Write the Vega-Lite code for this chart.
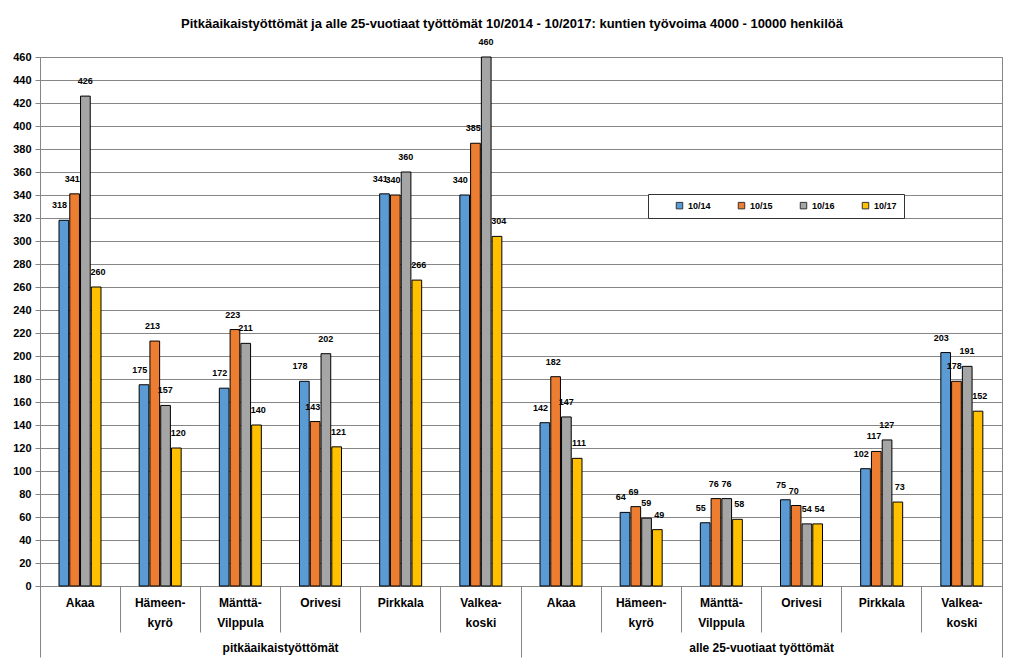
{
  "$schema": "https://vega.github.io/schema/vega-lite/v6.json",
  "width": 962,
  "height": 529,
  "autosize": {"type": "none"},
  "padding": {"left": 40, "top": 57, "right": 22, "bottom": 83},
  "background": "white",
  "title": {
    "text": "Pitkäaikaistyöttömät ja alle 25-vuotiaat työttömät 10/2014 - 10/2017: kuntien työvoima 4000 - 10000 henkilöä",
    "font": "Liberation Sans",
    "fontSize": 13,
    "fontWeight": "bold",
    "color": "black",
    "anchor": "middle",
    "offset": 7,
    "dx": -9
  },
  "config": {
    "view": {"stroke": "#868686", "strokeWidth": 1},
    "font": "Liberation Sans"
  },
  "data": {
    "values": [
      {"key": "P:Akaa", "series": "10/14", "value": 318},
      {"key": "P:Akaa", "series": "10/15", "value": 341},
      {"key": "P:Akaa", "series": "10/16", "value": 426},
      {"key": "P:Akaa", "series": "10/17", "value": 260},
      {"key": "P:Hämeen-kyrö", "series": "10/14", "value": 175},
      {"key": "P:Hämeen-kyrö", "series": "10/15", "value": 213},
      {"key": "P:Hämeen-kyrö", "series": "10/16", "value": 157},
      {"key": "P:Hämeen-kyrö", "series": "10/17", "value": 120},
      {"key": "P:Mänttä-Vilppula", "series": "10/14", "value": 172},
      {"key": "P:Mänttä-Vilppula", "series": "10/15", "value": 223},
      {"key": "P:Mänttä-Vilppula", "series": "10/16", "value": 211},
      {"key": "P:Mänttä-Vilppula", "series": "10/17", "value": 140},
      {"key": "P:Orivesi", "series": "10/14", "value": 178},
      {"key": "P:Orivesi", "series": "10/15", "value": 143},
      {"key": "P:Orivesi", "series": "10/16", "value": 202},
      {"key": "P:Orivesi", "series": "10/17", "value": 121},
      {"key": "P:Pirkkala", "series": "10/14", "value": 341},
      {"key": "P:Pirkkala", "series": "10/15", "value": 340},
      {"key": "P:Pirkkala", "series": "10/16", "value": 360},
      {"key": "P:Pirkkala", "series": "10/17", "value": 266},
      {"key": "P:Valkea-koski", "series": "10/14", "value": 340},
      {"key": "P:Valkea-koski", "series": "10/15", "value": 385},
      {"key": "P:Valkea-koski", "series": "10/16", "value": 460},
      {"key": "P:Valkea-koski", "series": "10/17", "value": 304},
      {"key": "A:Akaa", "series": "10/14", "value": 142},
      {"key": "A:Akaa", "series": "10/15", "value": 182},
      {"key": "A:Akaa", "series": "10/16", "value": 147},
      {"key": "A:Akaa", "series": "10/17", "value": 111},
      {"key": "A:Hämeen-kyrö", "series": "10/14", "value": 64},
      {"key": "A:Hämeen-kyrö", "series": "10/15", "value": 69},
      {"key": "A:Hämeen-kyrö", "series": "10/16", "value": 59},
      {"key": "A:Hämeen-kyrö", "series": "10/17", "value": 49},
      {"key": "A:Mänttä-Vilppula", "series": "10/14", "value": 55},
      {"key": "A:Mänttä-Vilppula", "series": "10/15", "value": 76},
      {"key": "A:Mänttä-Vilppula", "series": "10/16", "value": 76},
      {"key": "A:Mänttä-Vilppula", "series": "10/17", "value": 58},
      {"key": "A:Orivesi", "series": "10/14", "value": 75},
      {"key": "A:Orivesi", "series": "10/15", "value": 70},
      {"key": "A:Orivesi", "series": "10/16", "value": 54},
      {"key": "A:Orivesi", "series": "10/17", "value": 54},
      {"key": "A:Pirkkala", "series": "10/14", "value": 102},
      {"key": "A:Pirkkala", "series": "10/15", "value": 117},
      {"key": "A:Pirkkala", "series": "10/16", "value": 127},
      {"key": "A:Pirkkala", "series": "10/17", "value": 73},
      {"key": "A:Valkea-koski", "series": "10/14", "value": 203},
      {"key": "A:Valkea-koski", "series": "10/15", "value": 178},
      {"key": "A:Valkea-koski", "series": "10/16", "value": 191},
      {"key": "A:Valkea-koski", "series": "10/17", "value": 152}
    ]
  },
  "layer": [
    {
      "mark": {"type": "bar", "stroke": "black", "strokeWidth": 1},
      "encoding": {
        "x": {
          "field": "key", "type": "nominal", "sort": null,
          "scale": {"paddingInner": 0, "paddingOuter": 0},
          "axis": {
            "orient": "bottom", "title": null, "labels": false,
            "bandPosition": 0,
            "tickSize": {"condition": {"test": "datum.value === 'P:Akaa' || datum.value === 'A:Akaa'", "value": 71}, "value": 46},
            "tickColor": "#868686", "domainColor": "#868686", "grid": false
          }
        },
        "xOffset": {
          "field": "series", "type": "nominal", "sort": null,
          "scale": {"range": [19, 61], "paddingInner": 0.1, "paddingOuter": 0}
        },
        "y": {
          "field": "value", "type": "quantitative",
          "scale": {"domain": [0, 460], "nice": false},
          "axis": {
            "title": null,
            "values": [0,20,40,60,80,100,120,140,160,180,200,220,240,260,280,300,320,340,360,380,400,420,440,460],
            "labelFont": "Liberation Sans", "labelFontSize": 11, "labelFontWeight": "bold", "labelColor": "black",
            "tickColor": "#868686", "tickSize": 5, "labelPadding": 4,
            "domainColor": "#868686", "gridColor": "#868686", "gridWidth": 1, "grid": true, "gridOpacity": 1
          }
        },
        "color": {
          "field": "series", "type": "nominal",
          "scale": {"domain": ["10/14", "10/15", "10/16", "10/17"], "range": ["#5b9bd5", "#ed7d31", "#a5a5a5", "#ffc000"]},
          "legend": {
            "orient": "none", "legendX": 608, "legendY": 137,
            "direction": "horizontal", "columns": 4,
            "title": "\u00a0", "titleOrient": "left", "titlePadding": 20,
            "symbolType": "square", "symbolSize": 42, "symbolStrokeColor": "#333333", "symbolStrokeWidth": 1,
            "labelFont": "Liberation Sans", "labelFontSize": 9, "labelFontWeight": "bold", "labelColor": "black",
            "columnPadding": 25, "padding": 7,
            "strokeColor": "#333333", "fillColor": "white"
          }
        }
      }
    },
    {
      "mark": {"type": "text", "font": "Liberation Sans", "fontSize": 9, "fontWeight": "bold", "color": "black", "baseline": "bottom", "dy": -10},
      "encoding": {
        "x": {
          "field": "key", "type": "nominal", "sort": null,
          "axis": {
            "orient": "bottom", "title": null, "ticks": false, "domain": false, "grid": false,
            "labelPadding": 11, "labelAngle": 0, "labelFont": "Liberation Sans", "labelFontSize": 12, "labelFontWeight": "bold",
            "labelColor": "black", "labelLineHeight": 20, "labelLimit": 300,
            "labelExpr": "indexof(datum.label, '-') > 0 ? [slice(datum.label, 2, indexof(datum.label, '-') + 1), slice(datum.label, indexof(datum.label, '-') + 1)] : slice(datum.label, 2)"
          }
        },
        "xOffset": {
          "field": "series", "type": "nominal", "sort": null,
          "scale": {"range": [19.5, 58], "padding": 0}
        },
        "y": {
          "field": "value", "type": "quantitative",
          "axis": {
            "title": null,
            "values": [0,20,40,60,80,100,120,140,160,180,200,220,240,260,280,300,320,340,360,380,400,420,440,460],
            "labelFont": "Liberation Sans", "labelFontSize": 11, "labelFontWeight": "bold", "labelColor": "black",
            "tickColor": "#868686", "tickSize": 5, "labelPadding": 4,
            "domainColor": "#868686", "gridColor": "#868686", "gridWidth": 1, "grid": true, "gridOpacity": 1
          }
        },
        "text": {"field": "value", "type": "quantitative"}
      }
    },
    {
      "mark": {"type": "point", "opacity": 0},
      "encoding": {
        "x": {
          "field": "key", "type": "nominal", "sort": null,
          "axis": {
            "orient": "bottom", "title": null, "ticks": false, "domain": false, "grid": false,
            "values": ["P:Orivesi", "A:Orivesi"], "labelOffset": -40, "labelPadding": 56, "labelAngle": 0,
            "labelFont": "Liberation Sans", "labelFontSize": 12, "labelFontWeight": "bold", "labelColor": "black", "labelLimit": 400,
            "labelExpr": "datum.value === 'P:Orivesi' ? 'pitkäaikaistyöttömät' : 'alle 25-vuotiaat työttömät'"
          }
        },
        "y": {
          "field": "value", "type": "quantitative",
          "axis": {
            "title": null,
            "values": [0,20,40,60,80,100,120,140,160,180,200,220,240,260,280,300,320,340,360,380,400,420,440,460],
            "labelFont": "Liberation Sans", "labelFontSize": 11, "labelFontWeight": "bold", "labelColor": "black",
            "tickColor": "#868686", "tickSize": 5, "labelPadding": 4,
            "domainColor": "#868686", "gridColor": "#868686", "gridWidth": 1, "grid": true, "gridOpacity": 1
          }
        }
      }
    },
    {
      "mark": {"type": "point", "opacity": 0},
      "encoding": {
        "x": {
          "field": "key", "type": "nominal", "sort": null,
          "axis": {
            "orient": "bottom", "title": null, "labels": false, "domain": false, "grid": false,
            "values": ["A:Valkea-koski"], "bandPosition": 1, "tickSize": 71, "tickColor": "#868686"
          }
        },
        "y": {
          "field": "value", "type": "quantitative",
          "axis": {
            "title": null,
            "values": [0,20,40,60,80,100,120,140,160,180,200,220,240,260,280,300,320,340,360,380,400,420,440,460],
            "labelFont": "Liberation Sans", "labelFontSize": 11, "labelFontWeight": "bold", "labelColor": "black",
            "tickColor": "#868686", "tickSize": 5, "labelPadding": 4,
            "domainColor": "#868686", "gridColor": "#868686", "gridWidth": 1, "grid": true, "gridOpacity": 1
          }
        }
      }
    }
  ],
  "resolve": {"axis": {"x": "independent"}, "scale": {"xOffset": "independent"}}
}
